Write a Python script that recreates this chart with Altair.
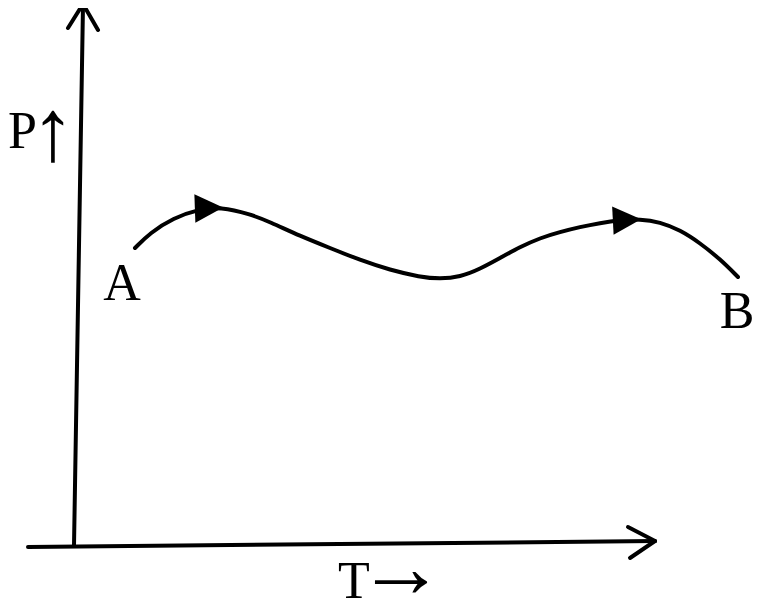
import altair as alt
import pandas as pd

# curve points (image pixel coordinates)
curve_x = [135, 150, 173, 200, 220, 250, 270, 300, 330, 360, 390, 420, 440, 460, 480, 500, 520, 540, 560, 580, 600, 620, 640, 660, 680, 700, 720, 738]
curve_y = [248, 233, 218, 209, 207, 214, 222, 236, 248, 260, 270, 277, 279, 277, 269, 258, 247, 238, 232, 227, 223, 220, 219, 222, 230, 243, 259, 277]

# axis segments: x, y, x2, y2
seg_x1 = [74, 28, 68, 98, 628, 630]
seg_y1 = [546, 547, 28, 30, 527, 558]
seg_x2 = [83, 655, 83, 83, 655, 655]
seg_y2 = [5, 541, 4, 4, 541, 541]

# direction arrowheads on the curve
arrow_x = [209, 627]
arrow_y = [208, 220]
arrow_angle = [358, 357]

# letter labels
label_text = ["A", "B", "P", "T"]
label_x = [122, 737, 8, 338]
label_y = [300, 328, 148, 598]
label_align = ["center", "center", "left", "left"]

# arrow glyphs after P and T
glyph_text = ["↑", "→"]
glyph_x = [31, 357]
glyph_y = [160, 597]

xs = alt.Scale(domain=[8, 753], nice=False, zero=False)
ys = alt.Scale(domain=[8, 602], reverse=True, nice=False, zero=False)

curve = pd.DataFrame({"x": curve_x, "y": curve_y})
segs = pd.DataFrame({"x": seg_x1, "y": seg_y1, "x2": seg_x2, "y2": seg_y2})
arrows = pd.DataFrame({"x": arrow_x, "y": arrow_y, "a": arrow_angle})
labels = pd.DataFrame({"t": label_text, "x": label_x, "y": label_y, "al": label_align})
glyphs = pd.DataFrame({"t": glyph_text, "x": glyph_x, "y": glyph_y})

line = alt.Chart(curve).mark_line(color="black", strokeWidth=4, interpolate="basis", strokeCap="round").encode(
    x=alt.X("x:Q", scale=xs, axis=None),
    y=alt.Y("y:Q", scale=ys, axis=None),
)

rules = alt.Chart(segs).mark_rule(color="black", strokeWidth=4, strokeCap="round").encode(
    x=alt.X("x:Q", scale=xs, axis=None),
    y=alt.Y("y:Q", scale=ys, axis=None),
    x2="x2:Q",
    y2="y2:Q",
)

heads = alt.Chart(arrows).mark_point(
    shape="M -1 -1 L 1 0 L -1 1 Z", filled=True, color="black", opacity=1, size=800
).encode(
    x=alt.X("x:Q", scale=xs, axis=None),
    y=alt.Y("y:Q", scale=ys, axis=None),
    angle=alt.Angle("a:Q", scale=None),
)

texts = []
for al in ["center", "left"]:
    texts.append(
        alt.Chart(labels[labels["al"] == al]).mark_text(
            font="Liberation Serif", fontSize=52, color="black", align=al, baseline="alphabetic"
        ).encode(
            x=alt.X("x:Q", scale=xs, axis=None),
            y=alt.Y("y:Q", scale=ys, axis=None),
            text="t:N",
        )
    )

glyph_layer = alt.Chart(glyphs).mark_text(
    font="Liberation Serif", fontSize=88, color="black", align="left", baseline="alphabetic"
).encode(
    x=alt.X("x:Q", scale=xs, axis=None),
    y=alt.Y("y:Q", scale=ys, axis=None),
    text="t:N",
)

chart = alt.layer(rules, line, heads, *texts, glyph_layer).properties(
    width=745, height=594, padding=0, autosize="none", background="white"
).configure_view(stroke=None)

chart.save("out.html", embed_options={"renderer": "svg", "actions": False})
